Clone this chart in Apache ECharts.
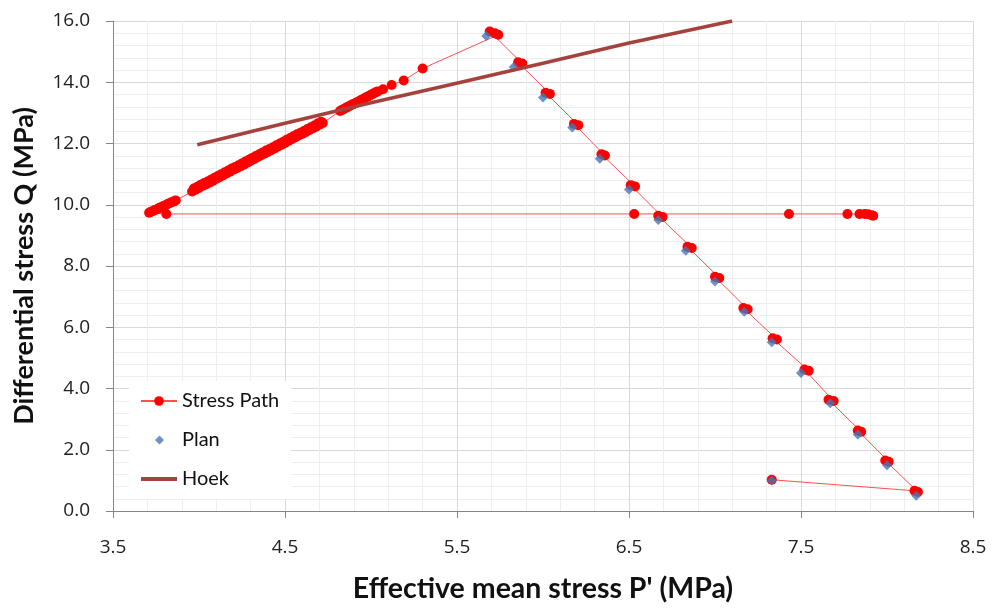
<!DOCTYPE html>
<html>
<head>
<meta charset="utf-8">
<title>Stress path</title>
<script src="https://cdn.jsdelivr.net/npm/echarts@6/dist/echarts.min.js"></script>
<style>
  html, body { margin: 0; padding: 0; background: #ffffff; }
  #chart { width: 993px; height: 608px; }
</style>
</head>
<body>
<div id="chart"></div>
<script>
// Measured stress path, [P' (MPa), Q (MPa)] in test order.
// Stepwise loading: start point, then two readings at each load step up to the peak.
const loadingSteps = [
  [7.33, 1.02],
  [8.16, 0.66], [8.18, 0.62],
  [7.99, 1.65], [8.01, 1.61],
  [7.83, 2.63], [7.85, 2.59],
  [7.66, 3.63], [7.69, 3.59],
  [7.52, 4.62], [7.545, 4.58],
  [7.335, 5.64], [7.36, 5.60],
  [7.165, 6.63], [7.19, 6.59],
  [7.00, 7.65], [7.025, 7.61],
  [6.84, 8.63], [6.865, 8.59],
  [6.67, 9.64], [6.695, 9.60],
  [6.51, 10.64], [6.535, 10.60],
  [6.34, 11.65], [6.36, 11.61],
  [6.18, 12.64], [6.205, 12.60],
  [6.015, 13.66], [6.04, 13.62],
  [5.855, 14.65], [5.88, 14.61],
  [5.69, 15.66], [5.72, 15.60], [5.74, 15.55]
];

// Post-peak readings: sparse just after the peak, then logged densely.
const postPeak = [
  [5.30, 14.45], [5.19, 14.06], [5.12, 13.91], [5.07, 13.77],
  [5.04, 13.70], [5.03, 13.68], [5.02, 13.65], [5.01, 13.62], [5.00, 13.59],
  [4.99, 13.56], [4.98, 13.53], [4.97, 13.50], [4.96, 13.47], [4.95, 13.44],
  [4.94, 13.41], [4.93, 13.38], [4.92, 13.35], [4.91, 13.32], [4.90, 13.29],
  [4.89, 13.27], [4.88, 13.24], [4.87, 13.21], [4.86, 13.18], [4.85, 13.15],
  [4.84, 13.12], [4.83, 13.09], [4.82, 13.06]
];

// Dense logging while the stress drops towards the residual state.
const softening = [
  [4.72, 12.67], [4.71, 12.71], [4.70, 12.61], [4.69, 12.65], [4.68, 12.55],
  [4.67, 12.59], [4.66, 12.49], [4.65, 12.53], [4.64, 12.43], [4.63, 12.47],
  [4.62, 12.37], [4.61, 12.41], [4.60, 12.31], [4.59, 12.35], [4.58, 12.26],
  [4.57, 12.30], [4.56, 12.20], [4.55, 12.24], [4.54, 12.14], [4.53, 12.18],
  [4.52, 12.08], [4.51, 12.12], [4.50, 12.02], [4.49, 12.06], [4.48, 11.96],
  [4.47, 12.00], [4.46, 11.90], [4.45, 11.94], [4.44, 11.84], [4.43, 11.88],
  [4.42, 11.78], [4.41, 11.82], [4.40, 11.72], [4.39, 11.77], [4.38, 11.67],
  [4.37, 11.71], [4.36, 11.61], [4.35, 11.65], [4.34, 11.55], [4.33, 11.59],
  [4.32, 11.49], [4.31, 11.53], [4.30, 11.43], [4.29, 11.47], [4.28, 11.37],
  [4.27, 11.41], [4.26, 11.31], [4.25, 11.35], [4.24, 11.25], [4.23, 11.29],
  [4.22, 11.19], [4.21, 11.23], [4.20, 11.14], [4.19, 11.18], [4.18, 11.08],
  [4.17, 11.12], [4.16, 11.02], [4.15, 11.06], [4.14, 10.96], [4.13, 11.00],
  [4.12, 10.90], [4.11, 10.94], [4.10, 10.84], [4.09, 10.88], [4.08, 10.78],
  [4.07, 10.82], [4.06, 10.72], [4.05, 10.76], [4.04, 10.66], [4.03, 10.71],
  [4.02, 10.61], [4.01, 10.65], [4.00, 10.55], [3.99, 10.59], [3.98, 10.49],
  [3.97, 10.53], [3.96, 10.43]
];

// Residual readings and the final unloading at constant Q.
const residual = [
  [3.865, 10.14], [3.86, 10.13], [3.85, 10.10], [3.84, 10.08], [3.83, 10.05],
  [3.82, 10.03], [3.81, 10.00], [3.80, 9.97], [3.79, 9.95], [3.78, 9.92],
  [3.77, 9.90], [3.76, 9.87], [3.75, 9.84], [3.74, 9.82], [3.73, 9.79],
  [3.72, 9.77], [3.71, 9.74],
  [3.81, 9.70], [6.53, 9.70], [7.43, 9.70], [7.77, 9.70],
  [7.84, 9.70], [7.87, 9.70], [7.89, 9.69], [7.91, 9.66], [7.92, 9.64]
];

// Planned load steps.
const planP = [7.33, 8.17, 8.00, 7.83, 7.67, 7.50, 7.33, 7.17, 7.00, 6.83, 6.67, 6.50, 6.33, 6.17, 6.00, 5.83, 5.67];
const planQ = [1.00, 0.50, 1.49, 2.50, 3.52, 4.51, 5.51, 6.51, 7.49, 8.50, 9.50, 10.50, 11.50, 12.52, 13.50, 14.50, 15.51];

// Hoek-Brown failure envelope.
const hoekP = [3.99, 4.50, 5.00, 5.46, 6.00, 6.50, 7.10];
const hoekQ = [11.96, 12.66, 13.33, 13.92, 14.62, 15.28, 16.00];

// Axis tick settings
const xTicks = { min: 3.5, max: 8.5, step: 1 };
const yTicks = { min: 0, max: 16, step: 2 };

const pairs = (xs, ys) => xs.map((x, i) => [x, ys[i]]);
const stressPath = loadingSteps.concat(postPeak, softening, residual);

const FONT = 'Lato';
const TICK_FONT = 'Open Sans';
const HOEK_COLOR = '#a5423e';

// Legend diamond drawn inside the full icon box so it keeps its shape.
const DIAMOND_ICON = 'path://M0,0L0.01,0.01Z M36,12L35.99,11.99Z M18.5,1.5L23,6L18.5,10.5L14,6Z';

const chart = echarts.init(document.getElementById('chart'), null, { renderer: 'canvas' });

const axisCommon = {
  type: 'value',
  axisLine: { show: true, lineStyle: { color: '#868686', width: 1 } },
  axisTick: { show: true, length: 7, lineStyle: { color: '#868686' } },
  splitLine: { show: true, lineStyle: { color: '#d9d9d9', width: 1 } },
  minorTick: { show: false, splitNumber: 5 },
  minorSplitLine: { show: true, lineStyle: { color: '#eeeeee', width: 1 } },
  nameLocation: 'middle',
  nameTextStyle: { fontFamily: FONT, fontWeight: 'bold', color: '#111111' }
};

chart.setOption({
  animation: false,
  backgroundColor: '#ffffff',
  textStyle: { fontFamily: FONT },
  grid: { left: 113, right: 20, top: 21, bottom: 93, containLabel: false },
  xAxis: Object.assign({}, axisCommon, {
    min: xTicks.min, max: xTicks.max, interval: xTicks.step,
    name: "Effective mean stress P' (MPa)",
    nameGap: 63,
    nameTextStyle: Object.assign({}, axisCommon.nameTextStyle, { fontSize: 28.5 }),
    axisLabel: {
      fontFamily: TICK_FONT, fontSize: 19, color: '#222222', margin: 27,
      formatter: v => v.toFixed(1)
    }
  }),
  yAxis: Object.assign({}, axisCommon, {
    min: yTicks.min, max: yTicks.max, interval: yTicks.step,
    name: 'Differential stress Q (MPa)',
    nameGap: 75,
    nameTextStyle: Object.assign({}, axisCommon.nameTextStyle, { fontSize: 27 }),
    axisLabel: {
      fontFamily: TICK_FONT, fontSize: 19, color: '#222222', margin: 23,
      formatter: v => v.toFixed(1)
    }
  }),
  legend: {
    orient: 'vertical',
    left: 129, top: 381,
    backgroundColor: '#ffffff',
    padding: [10, 12, 10, 10],
    itemGap: 19,
    itemWidth: 36,
    itemHeight: 12,
    textStyle: { fontFamily: FONT, fontSize: 20, color: '#111111' },
    data: [
      { name: 'Stress Path' },
      { name: 'Plan', icon: DIAMOND_ICON },
      { name: 'Hoek', itemStyle: { opacity: 0 }, lineStyle: { width: 4, color: HOEK_COLOR } }
    ]
  },
  series: [
    {
      name: 'Stress Path',
      type: 'line',
      data: stressPath,
      symbol: 'circle',
      symbolSize: 10,
      showSymbol: true,
      itemStyle: { color: '#ff0000' },
      lineStyle: { color: '#ff4f4f', width: 1 },
      z: 2
    },
    {
      name: 'Plan',
      type: 'scatter',
      data: pairs(planP, planQ),
      symbol: 'diamond',
      symbolSize: 10,
      itemStyle: { color: '#4677b4' },
      z: 3
    },
    {
      name: 'Hoek',
      type: 'line',
      data: pairs(hoekP, hoekQ),
      showSymbol: false,
      symbol: 'none',
      lineStyle: { color: HOEK_COLOR, width: 3.5 },
      itemStyle: { color: HOEK_COLOR },
      z: 4
    }
  ]
});
</script>
</body>
</html>
